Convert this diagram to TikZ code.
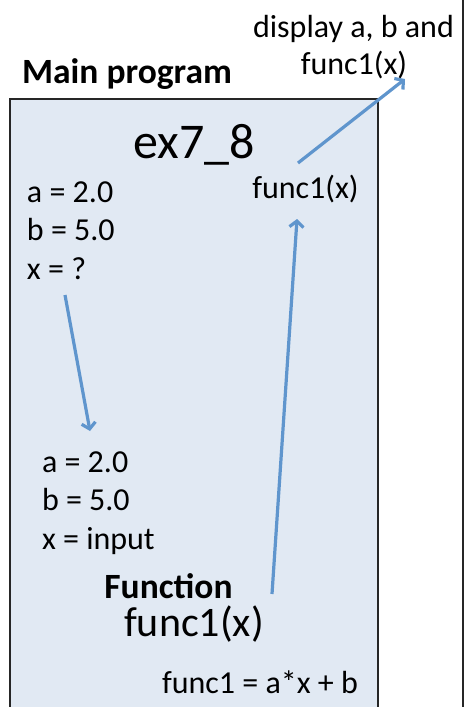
\documentclass[tikz,border=0pt]{standalone}
\usepackage{fontspec}
\setmainfont{Carlito}
\usetikzlibrary{arrows.meta}
\definecolor{boxfill}{HTML}{E1E9F3}
\definecolor{arrowblue}{HTML}{5F95CD}
\tikzset{
  txt/.style={inner sep=0pt, outer sep=0pt, font=\fontsize{32}{38}\selectfont, anchor=base},
  txtl/.style={txt, anchor=base west},
  bigtxt/.style={txt, font=\fontsize{50}{60}\selectfont},
  midtxt/.style={txt, font=\fontsize{42}{50}\selectfont},
  boldtxt/.style={txt, font=\fontsize{35.5}{42}\selectfont\bfseries},
  flow/.style={draw=arrowblue, line width=3.2pt, -{Straight Barb[length=6pt,width=14pt]}},
}
\begin{document}
\begin{tikzpicture}[x=1pt,y=-1pt]
\useasboundingbox (0,0) rectangle (468,707);
\clip (0,0) rectangle (468,707);
\fill[white] (0,0) rectangle (468,707);
% main box
\draw[fill=boxfill, draw=black!85, line width=1.3pt] (10,99) rectangle (378,740);
% right border line
\draw[black!85, line width=2pt] (463,-5) -- (463,712);
% texts
\node[txt] (disp1) at (353.5,37) {display a, b and};
\node[txt] (disp2) at (354,74) {func1(x)};
\node[boldtxt] (main) at (127,83) {Main program};
\node[bigtxt] (ex) at (194,158) {ex7\_8};
\node[txt] (fcall) at (305.5,198) {func1(x)};
\node[txtl] (a1) at (27,202) {a = 2.0};
\node[txtl] (b1) at (27,240) {b = 5.0};
\node[txtl] (x1) at (27,279) {x = ?};
\node[txtl] (a2) at (42,472) {a = 2.0};
\node[txtl] (b2) at (42,510) {b = 5.0};
\node[txtl] (x2) at (42,549) {x = input};
\node[boldtxt] (fun) at (168.5,598) {Function};
\node[midtxt] (fdef) at (194,636) {func1(x)};
\node[txt] (fbody) at (260,693) {func1 = a*x + b};
% arrow end points
\coordinate (p1s) at (65,295);
\coordinate (p1e) at (90,431);
\coordinate (p2s) at (272,594);
\coordinate (p2e) at (297,219);
\coordinate (p3s) at (298,163);
\coordinate (p3e) at (405,79);
\draw[flow] (p1s) -- (p1e);
\draw[flow] (p2s) -- (p2e);
\draw[flow] (p3s) -- (p3e);
\end{tikzpicture}
\end{document}
